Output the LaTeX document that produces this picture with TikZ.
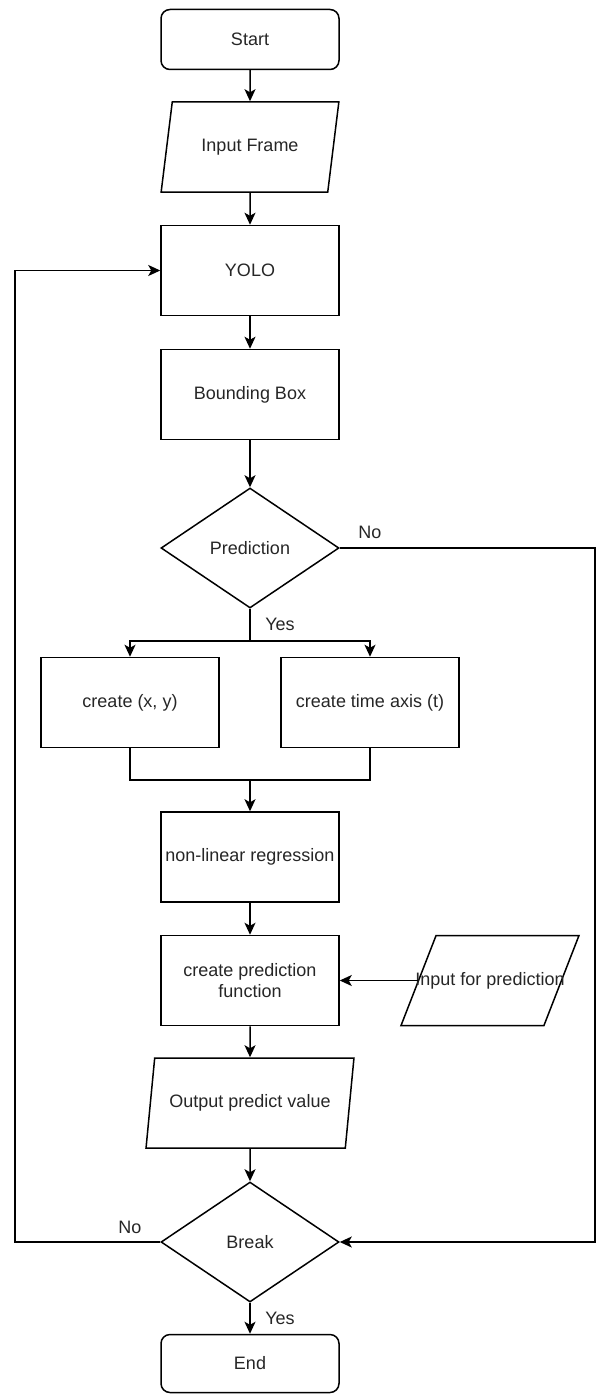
\documentclass[tikz,border=0pt]{standalone}
\usepackage{fontspec}
\setmainfont{Liberation Sans}
\usepackage{tikz}
\usetikzlibrary{shapes.geometric,arrows.meta}
\tikzstyle{term} = [rectangle, rounded corners=9pt, draw, minimum width=178pt, minimum height=60pt]
\tikzstyle{block} = [rectangle, draw, minimum width=178pt, minimum height=90pt, align=center]
\tikzstyle{io} = [trapezium, trapezium left angle=72, trapezium right angle=108, trapezium stretches=true, draw, minimum width=178pt, minimum height=90pt]
\tikzstyle{decision} = [diamond, draw, minimum width=178pt, minimum height=120pt, inner sep=0pt]

\begin{document}
\begin{tikzpicture}[line width=1.5pt, >={Stealth[length=12pt,width=11pt,inset=3pt]}, font=\fontsize{18pt}{21pt}\selectfont, text=black!85]
  \useasboundingbox (0pt,0pt) rectangle (596pt,-1394pt);
  \draw (250.0pt, -39.5pt)node[term](start){Start};
  \draw (250.0pt, -147.0pt)node[io](inframe){Input Frame};
  \draw (250.0pt, -270.5pt)node[block](yolo){YOLO};
  \draw (250.0pt, -394.5pt)node[block](bbox){Bounding Box};
  \draw (250.0pt, -548.0pt)node[decision](pred){Prediction};
  \draw (130.0pt, -702.5pt)node[block](cxy){create (x, y)};
  \draw (370.0pt, -702.5pt)node[block](ctime){create time axis (t)};
  \draw (250.0pt, -857.0pt)node[block](nonlin){non-linear regression};
  \draw (250.0pt, -980.5pt)node[block](cfunc){create prediction\\function};
  \draw (490.0pt, -980.5pt)node[io, label=center:{Input for prediction}](inpred){};
  \draw (250.0pt, -1103.0pt)node[io, minimum width=208pt](outval){Output predict value};
  \draw (250.0pt, -1242.0pt)node[decision](brk){Break};
  \draw (250.0pt, -1363.5pt)node[term, minimum height=58pt](endn){End};
  % branch labels
  \draw (370.0pt, -532.0pt)node(predno){No};
  \draw (280.0pt, -624.0pt)node(predyes){Yes};
  \draw (130.0pt, -1227.0pt)node(brkno){No};
  \draw (280.0pt, -1318.0pt)node(brkyes){Yes};
  % helper points
  \coordinate (split) at (250.0pt, -641.0pt);
  \coordinate (merge) at (250.0pt, -780.0pt);
  \coordinate (lft) at (15.0pt, 0pt);
  \coordinate (rgt) at (595.0pt, 0pt);
  \path[->] (start) edge (inframe);
  \path[->] (inframe) edge (yolo);
  \path[->] (yolo) edge (bbox);
  \path[->] (bbox) edge (pred);
  \draw (pred.south) -- (split);
  \draw[->] (split) -| (cxy.north);
  \draw[->] (split) -| (ctime.north);
  \draw (cxy.south) |- (merge);
  \draw (ctime.south) |- (merge);
  \path[->] (merge) edge (nonlin);
  \path[->] (nonlin) edge (cfunc);
  \path[->] (inpred) edge (cfunc);
  \path[->] (cfunc) edge (outval);
  \path[->] (outval) edge (brk);
  \path[->] (brk) edge (endn);
  \draw[->] (pred.east) -- (pred.east -| rgt) |- (brk.east);
  \draw[->] (brk.west) -- (brk.west -| lft) |- (yolo.west);
\end{tikzpicture}
\end{document}
